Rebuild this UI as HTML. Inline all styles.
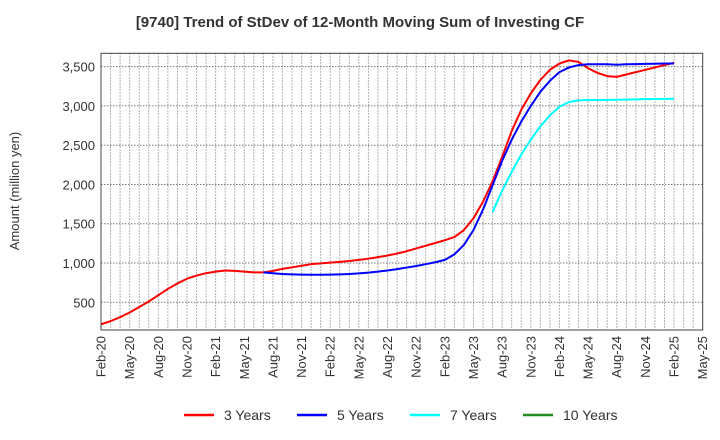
<!DOCTYPE html>
<html><head><meta charset="utf-8"><style>
body{margin:0;background:#fff;}
svg{display:block;font-family:"Liberation Sans",Arial,sans-serif;}
</style></head><body>
<svg id="chart" width="720" height="440">
<text x="360" y="27" text-anchor="middle" font-size="15" font-weight="bold" fill="#333">[9740]  Trend of StDev of 12-Month Moving Sum of Investing CF</text>
<text transform="translate(19,191) rotate(-90)" text-anchor="middle" font-size="13" fill="#333">Amount (million yen)</text>
<g id="grid"></g>
<g id="yticks"></g>
<g id="xticks"></g>
<g id="series"></g>
<rect x="101" y="53.3" width="601.7" height="276.7" fill="none" stroke="#444" stroke-width="1"/>
<g>
<g><line x1="184" y1="415" x2="214" y2="415" stroke="#ff0000" stroke-width="2.5"/><text x="224" y="420" font-size="14" fill="#333">3 Years</text></g>
<g><line x1="297" y1="415" x2="327" y2="415" stroke="#0000ff" stroke-width="2.5"/><text x="337" y="420" font-size="14" fill="#333">5 Years</text></g>
<g><line x1="410" y1="415" x2="440" y2="415" stroke="#00ffff" stroke-width="2.5"/><text x="450" y="420" font-size="14" fill="#333">7 Years</text></g>
<g><line x1="523" y1="415" x2="553" y2="415" stroke="#228b22" stroke-width="2.5"/><text x="563" y="420" font-size="14" fill="#333">10 Years</text></g>
</g>
</svg>
<script>
const xLabels = ["Feb-20","May-20","Aug-20","Nov-20","Feb-21","May-21","Aug-21","Nov-21","Feb-22","May-22","Aug-22","Nov-22","Feb-23","May-23","Aug-23","Nov-23","Feb-24","May-24","Aug-24","Nov-24","Feb-25","May-25"];
const yTicks = [500,1000,1500,2000,2500,3000,3500];
const yTickLabels = ["500","1,000","1,500","2,000","2,500","3,000","3,500"];
const series3Start = 0;
const series3 = [220,260,310,370,440,510,590,670,740,800,840,870,890,905,900,890,880,880,900,925,945,965,985,995,1005,1015,1025,1040,1055,1075,1095,1120,1150,1185,1220,1255,1290,1330,1420,1570,1780,2040,2350,2680,2950,3160,3330,3460,3540,3580,3560,3480,3420,3380,3370,3400,3430,3460,3490,3520,3550];
const series5Start = 17;
const series5 = [880,870,860,855,852,850,850,852,855,860,868,878,890,905,922,942,962,985,1010,1040,1110,1230,1420,1680,1990,2300,2570,2800,3000,3180,3320,3430,3490,3520,3530,3530,3530,3525,3530,3532,3535,3537,3540,3540];
const series7Start = 41;
const series7 = [1650,1920,2160,2380,2570,2740,2880,2990,3050,3070,3075,3075,3075,3078,3080,3083,3086,3088,3090,3092];
const series10Start = 0;
const series10 = [];

const X0=101, X1=702.7, Y0=53.3, Y1=330, NM=63, YMIN=147, YMAX=3670;
function xs(m){return X0+(X1-X0)*m/NM;}
function ys(v){return Y1-(Y1-Y0)*(v-YMIN)/(YMAX-YMIN);}
const NS="http://www.w3.org/2000/svg";
function el(t,a,p){const e=document.createElementNS(NS,t);for(const k in a)e.setAttribute(k,a[k]);p.appendChild(e);return e;}
const grid=document.getElementById('grid'), yt=document.getElementById('yticks'), xt=document.getElementById('xticks'), sg=document.getElementById('series');
for(let m=1;m<NM;m++){
  const l=el('line',{x1:xs(m),x2:xs(m),y1:Y0,y2:Y1,stroke:'#999','stroke-width':1,'stroke-dasharray':'1.5,1.5'},grid);
  
  
}
yTicks.forEach((v,i)=>{
  const l=el('line',{x1:X0,x2:X1,y1:ys(v),y2:ys(v),stroke:'#777','stroke-width':1,'stroke-dasharray':'1.5,1.5'},grid);
  
  
  const t=el('text',{x:X0-6,y:ys(v)+5,'text-anchor':'end','font-size':13,fill:'#333'},yt);
  t.textContent=yTickLabels[i];
  
  
});
xLabels.forEach((s,i)=>{
  const x=xs(i*3);
  const t=el('text',{transform:`translate(${x+4.5},336) rotate(-90)`,'text-anchor':'end','font-size':13,fill:'#333'},xt);
  t.textContent=s;
  
  
});
function draw(data,start,color,name){
  if(!data.length)return;
  const d=data.map((v,i)=>(i?'L':'M')+xs(start+i).toFixed(2)+','+ys(v).toFixed(2)).join('');
  const p=el('path',{d:d,fill:'none',stroke:color,'stroke-width':2,'stroke-linejoin':'round'},sg);
  
  
}
draw(series3,series3Start,'#ff0000','line-3-years');
draw(series5,series5Start,'#0000ff','line-5-years');
draw(series7,series7Start,'#00ffff','line-7-years');
draw(series10,series10Start,'#228b22','line-10-years');
</script>
</body></html>
